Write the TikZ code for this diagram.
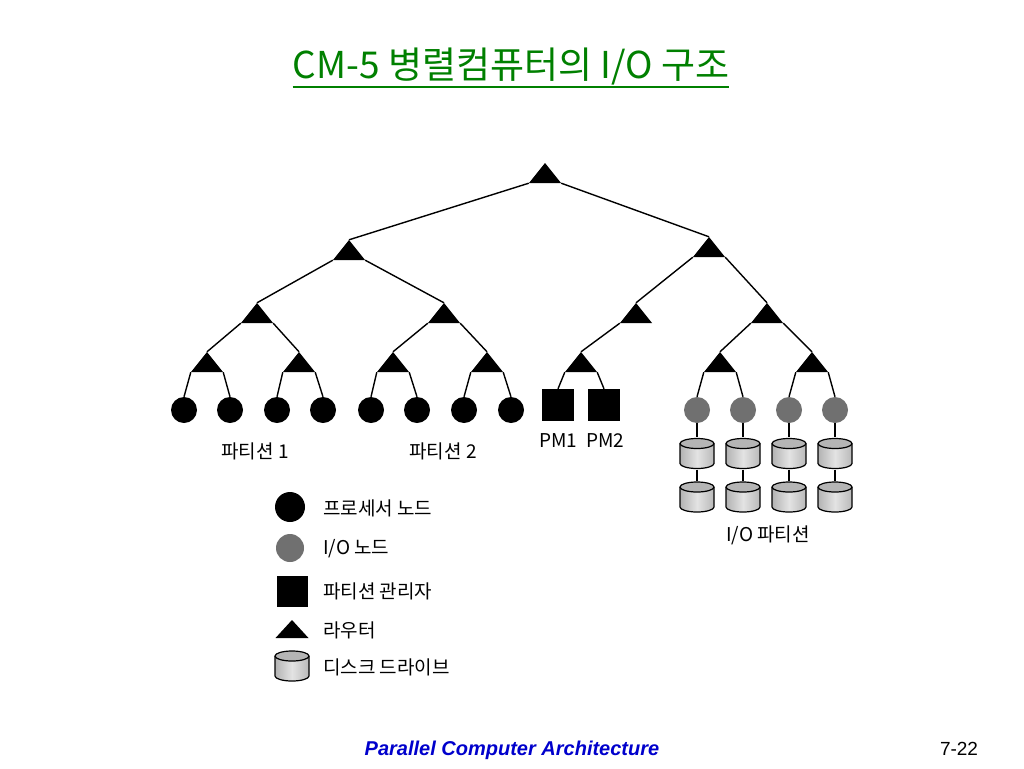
\documentclass[tikz,border=0pt]{standalone}
\usepackage{fontspec}
\setmainfont{Noto Sans CJK KR}
\newfontfamily\footfont{Liberation Sans}
\newcommand{\thickul}[1]{\setbox0\hbox{#1}\rlap{\rule[-9pt]{\wd0}{2pt}}\box0}
\definecolor{titlegreen}{RGB}{0,128,0}
\definecolor{footblue}{RGB}{0,0,204}
\definecolor{iogray}{RGB}{112,112,112}
\tikzset{
	router/.style={
		rectangle,
		draw=none,
		inner sep=0pt,
		minimum width=32pt,
		minimum height=20pt,
		path picture={\fill[black] (path picture bounding box.south west) -- (path picture bounding box.south east) -- (path picture bounding box.north) -- cycle;}},
	proc/.style={
		circle,
		fill=black,
		inner sep=0pt,
		minimum size=26pt},
	ionode/.style={
		circle,
		fill=iogray,
		inner sep=0pt,
		minimum size=26pt},
	pmbox/.style={
		rectangle,
		fill=black,
		inner sep=0pt,
		minimum size=32pt},
	disk/.style={
		rectangle,
		draw=none,
		inner sep=0pt,
		minimum width=37pt,
		minimum height=32pt,
		path picture={
			\begin{scope}[shift={(path picture bounding box.center)}]
			\shade[left color=gray!60, right color=gray!55, middle color=gray!22] (-17pt,10pt) -- (-17pt,-10pt) arc[start angle=180, end angle=360, x radius=17pt, y radius=5pt] -- (17pt,10pt) -- cycle;
			\fill[gray!58] (0pt,10pt) ellipse[x radius=17pt, y radius=5pt];
			\draw[line width=1.2pt] (-17pt,10pt) -- (-17pt,-10pt) arc[start angle=180, end angle=360, x radius=17pt, y radius=5pt] -- (17pt,10pt);
			\draw[line width=1.2pt] (0pt,10pt) ellipse[x radius=17pt, y radius=5pt];
			\end{scope}}},
	link/.style={line width=1.4pt},
	lbl/.style={font=\fontsize{19}{22}\selectfont, inner sep=0pt}
}
\begin{document}
\begin{tikzpicture}
[x=1pt, y=-1pt, node distance=43.5pt]
\fill[white] (0,0) rectangle (1024,768);
\useasboundingbox (0,0) rectangle (1024,768);
% title and footer
\node[font=\fontsize{37}{42}\selectfont, text=titlegreen, inner sep=0pt] (title) at (511,68) {\thickul{CM-5 병렬컴퓨터의 I/O 구조}};
\node[font=\footfont\bfseries\itshape\fontsize{20}{24}\selectfont, text=footblue, inner sep=0pt] (foot) at (512,750) {Parallel Computer Architecture};
\node[font=\footfont\fontsize{19}{22}\selectfont, inner sep=0pt] (page) at (959,749) {7-22};
% routers
\node[router] (r0) at (545,173) {};
\node[router] (r1a) at (349,250) {};
\node[router] (r1b) at (709,247) {};
\node[router] (r2a) at (257,313) {};
\node[router] (r2b) at (444,313) {};
\node[router] (r2c) at (636,313) {};
\node[router] (r2d) at (767,313) {};
\node[router] (r3a) at (207,362) {};
\node[router] (r3b) at (299,362) {};
\node[router] (r3c) at (393,362) {};
\node[router] (r3d) at (487,362) {};
\node[router] (r3e) at (581,362) {};
\node[router] (r3f) at (720,362) {};
\node[router] (r3g) at (812,362) {};
% leaves
\node[proc] (p1) at (184,410) {};
\node[proc] (p2) at (230,410) {};
\node[proc] (p3) at (277,410) {};
\node[proc] (p4) at (323,410) {};
\node[proc] (p5) at (371,410) {};
\node[proc] (p6) at (417,410) {};
\node[proc] (p7) at (464,410) {};
\node[proc] (p8) at (511,410) {};
\node[pmbox] (pm1) at (558,405) {};
\node[pmbox] (pm2) at (604,405) {};
\node[ionode] (io1) at (697,410) {};
\node[ionode] (io2) at (743,410) {};
\node[ionode] (io3) at (789,410) {};
\node[ionode] (io4) at (835,410) {};
\node[disk, below of=io1] (d1a) {};
\node[disk, below of=d1a] (d1b) {};
\node[disk, below of=io2] (d2a) {};
\node[disk, below of=d2a] (d2b) {};
\node[disk, below of=io3] (d3a) {};
\node[disk, below of=d3a] (d3b) {};
\node[disk, below of=io4] (d4a) {};
\node[disk, below of=d4a] (d4b) {};
% labels
\node[lbl] (part1) at (255,451) {파티션 1};
\node[lbl] (part2) at (443,451) {파티션 2};
\node[lbl] (pm1lbl) at (558,441) {PM1};
\node[lbl] (pm2lbl) at (605,441) {PM2};
\node[lbl] (iopart) at (768,535) {I/O 파티션};
% links
\draw[link] (r0.south west) -- (r1a.north);
\draw[link] (r0.south east) -- (r1b.north);
\draw[link] (r1a.south west) -- (r2a.north);
\draw[link] (r1a.south east) -- (r2b.north);
\draw[link] (r1b.south west) -- (r2c.north);
\draw[link] (r1b.south east) -- (r2d.north);
\draw[link] (r2a.south west) -- (r3a.north);
\draw[link] (r2a.south east) -- (r3b.north);
\draw[link] (r2b.south west) -- (r3c.north);
\draw[link] (r2b.south east) -- (r3d.north);
\draw[link] (r2c.south west) -- (r3e.north);
\draw[link] (r2d.south west) -- (r3f.north);
\draw[link] (r2d.south east) -- (r3g.north);
\draw[link] (r3a.south west) -- (p1.north);
\draw[link] (r3a.south east) -- (p2.north);
\draw[link] (r3b.south west) -- (p3.north);
\draw[link] (r3b.south east) -- (p4.north);
\draw[link] (r3c.south west) -- (p5.north);
\draw[link] (r3c.south east) -- (p6.north);
\draw[link] (r3d.south west) -- (p7.north);
\draw[link] (r3d.south east) -- (p8.north);
\draw[link] (r3e.south west) -- (pm1.north);
\draw[link] (r3e.south east) -- (pm2.north);
\draw[link] (r3f.south west) -- (io1.north);
\draw[link] (r3f.south east) -- (io2.north);
\draw[link] (r3g.south west) -- (io3.north);
\draw[link] (r3g.south east) -- (io4.north);
\draw[link] (io1) -- (d1a.north);
\draw[link] (d1a.south) -- (d1b.north);
\draw[link] (io2) -- (d2a.north);
\draw[link] (d2a.south) -- (d2b.north);
\draw[link] (io3) -- (d3a.north);
\draw[link] (d3a.south) -- (d3b.north);
\draw[link] (io4) -- (d4a.north);
\draw[link] (d4a.south) -- (d4b.north);
% legend
\node[proc, minimum size=30pt] (kproc) at (290,507) {};
\node[ionode, minimum size=28pt] (kio) at (290,548) {};
\node[pmbox, minimum size=31pt] (kpm) at (292,591) {};
\node[router, minimum width=33pt, minimum height=18pt] (krouter) at (292,629) {};
\node[disk] (kdisk) at (292,666) {};
\node[lbl, anchor=west] (kproclbl) at (323,508) {프로세서 노드};
\node[lbl, anchor=west] (kiolbl) at (323,549) {I/O 노드};
\node[lbl, anchor=west] (kpmlbl) at (323,591) {파티션 관리자};
\node[lbl, anchor=west] (krouterlbl) at (323,630) {라우터};
\node[lbl, anchor=west] (kdisklbl) at (323,667) {디스크 드라이브};
\end{tikzpicture}
\end{document}
